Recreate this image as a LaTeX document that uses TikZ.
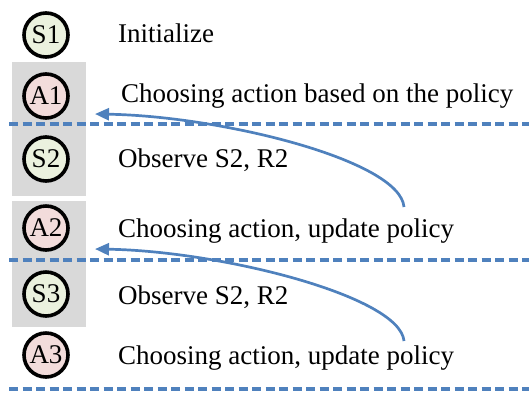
\documentclass[tikz,border=0pt]{standalone}
\usepackage{fontspec}
\setmainfont{Liberation Serif}
\usetikzlibrary{arrows.meta}
\definecolor{flowblue}{HTML}{4F81BD}
\definecolor{statefill}{HTML}{EBF1DE}
\definecolor{actfill}{HTML}{F2DCDB}
\definecolor{bandgray}{HTML}{D9D9D9}
\begin{document}
\begin{tikzpicture}[x=1pt,y=-1pt,
  every node/.style={font=\fontsize{27}{30}\selectfont},
  stepnode/.style={circle,draw=black,line width=3.6pt,minimum size=44pt,inner sep=0pt},
  statenode/.style={stepnode,fill=statefill},
  actnode/.style={stepnode,fill=actfill},
  caption/.style={anchor=base west,inner sep=0pt},
  divider/.style={draw=flowblue,line width=3.5pt,dash pattern=on 9pt off 4.5pt},
  feedback/.style={draw=flowblue,line width=2.7pt,-{Triangle[length=14pt,width=12pt]}}]
\useasboundingbox (0,0) rectangle (529,392);

% gray bands grouping each action with the following observation
\fill[bandgray] (12,62) rectangle (86,196);
\fill[bandgray] (12,201) rectangle (86,327);

% step circles
\node[statenode] (s1) at (46,35) {S1};
\node[actnode]   (a1) at (46,96) {A1};
\node[statenode] (s2) at (46,159) {S2};
\node[actnode]   (a2) at (46,228) {A2};
\node[statenode] (s3) at (46,294) {S3};
\node[actnode]   (a3) at (46,355) {A3};

% step descriptions
\node[caption] (t1) at (118,42)  {Initialize};
\node[caption] (t2) at (121,102) {Choosing action based on the policy};
\node[caption] (t3) at (118,167) {Observe S2, R2};
\node[caption] (t4) at (118,237) {Choosing action, update policy};
\node[caption] (t5) at (118,304) {Observe S2, R2};
\node[caption] (t6) at (118,364) {Choosing action, update policy};

% dashed dividers
\coordinate (d1l) at (9,124);  \coordinate (d1r) at (529,124);
\coordinate (d2l) at (9,260);  \coordinate (d2r) at (529,260);
\coordinate (d3l) at (9,389);  \coordinate (d3r) at (529,389);
\draw[divider] (d1l) -- (d1r);
\draw[divider] (d2l) -- (d2r);
\draw[divider] (d3l) -- (d3r);

% feedback arrows from policy updates back to earlier actions
\coordinate (f1s) at (404,207); \coordinate (f1e) at (95,114);
\coordinate (f2s) at (404,341); \coordinate (f2e) at (95,249);
\draw[feedback] (f1s) .. controls (400,160) and (220,116) .. (f1e);
\draw[feedback] (f2s) .. controls (400,296) and (220,251) .. (f2e);
\end{tikzpicture}
\end{document}
